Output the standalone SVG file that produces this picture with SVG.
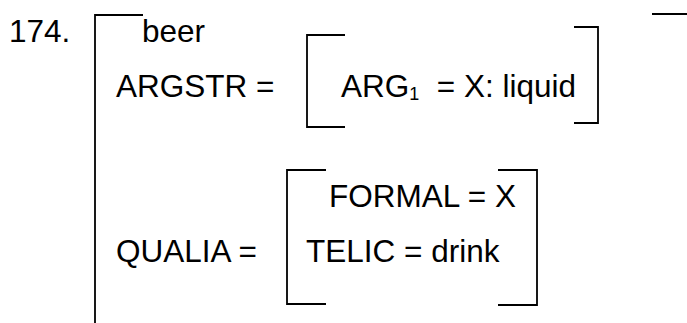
<svg xmlns="http://www.w3.org/2000/svg" width="687" height="323" viewBox="0 0 687 323">
<style>
.t{font-family:"Liberation Sans",Arial,sans-serif;font-size:31.5px;fill:#000}
.b{fill:none;stroke:#000;stroke-width:1.8}
</style>
<rect width="687" height="323" fill="#fff"/>
<g id="example-number"><text class="t" x="9" y="42">174.</text></g>
<g id="outer-matrix">
<path class="b" d="M143,15 H95 V323"/>
<path class="b" d="M652,14 H687"/>
<text class="t" x="142" y="42">beer</text>
</g>
<g id="argstr">
<text class="t" x="116" y="97">ARGSTR =</text>
<path class="b" d="M345,35 H307 V127 H345"/>
<path class="b" d="M574,27 H598 V123 H574"/>
<text class="t" x="341" y="97" xml:space="preserve">ARG<tspan font-size="18" dy="3">1</tspan><tspan dy="-3">  = X: liquid</tspan></text>
</g>
<g id="qualia">
<text class="t" x="116" y="262">QUALIA =</text>
<path class="b" d="M326,170 H287 V304 H326"/>
<path class="b" d="M498,170 H537 V305 H498"/>
<text class="t" x="329" y="207">FORMAL = X</text>
<text class="t" x="306" y="262">TELIC = drink</text>
</g>
</svg>
